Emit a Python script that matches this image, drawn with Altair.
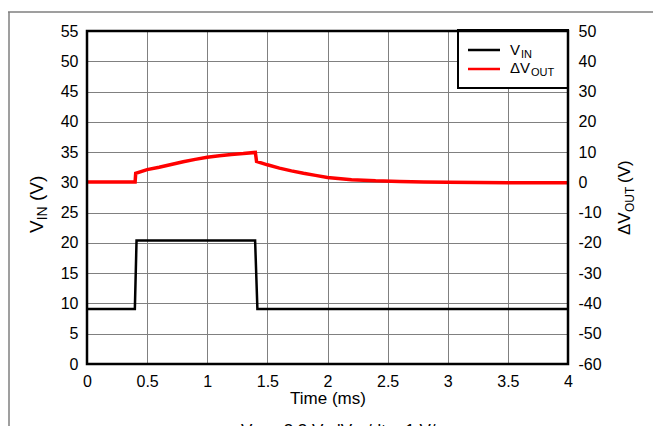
import altair as alt
import pandas as pd

FONT = "Liberation Sans"

# ---- data ----
t_vin = [0.0, 0.398, 0.412, 1.398, 1.417, 4.0]
v_in = [9.1, 9.1, 20.4, 20.4, 9.1, 9.1]

t_out = [0.0, 0.2, 0.4, 0.405, 0.5, 0.6, 0.7, 0.8, 0.9, 1.0, 1.1, 1.2, 1.3, 1.4,
         1.41, 1.5, 1.6, 1.7, 1.8, 1.9, 2.0, 2.2, 2.4, 2.6, 2.8, 3.0, 3.5, 4.0]
dv_out = [0.1, 0.1, 0.1, 3.0, 4.2, 5.0, 5.9, 6.8, 7.6, 8.3, 8.8, 9.2, 9.5, 9.9,
          6.9, 5.8, 4.7, 3.8, 3.0, 2.3, 1.6, 0.9, 0.5, 0.3, 0.1, 0.0, -0.1, -0.1]

x_ticks = [0, 0.5, 1, 1.5, 2, 2.5, 3, 3.5, 4]
left_ticks = list(range(0, 56, 5))
right_ticks = list(range(-60, 51, 10))

W, H = 481, 333

vin_df = pd.DataFrame({"t": t_vin, "v": v_in})
out_df = pd.DataFrame({"t": t_out, "dv": dv_out})
one = pd.DataFrame({"k": [0]})

LBL = "'' + datum.value"

xenc = alt.X("t:Q", scale=alt.Scale(domain=[0, 4], nice=False),
             axis=alt.Axis(values=x_ticks, title="Time (ms)", grid=True,
                           gridColor="#808080", gridWidth=1, domain=False,
                           ticks=False, labelPadding=9, labelFontSize=16,
                           labelExpr=LBL,
                           titleFontSize=17, titleFontWeight="normal",
                           titlePadding=1, labelColor="black", titleColor="black",
                           labelFlush=False, labelOverlap=False))

vin_line = alt.Chart(vin_df).mark_line(color="black", strokeWidth=2.5).encode(
    x=xenc,
    y=alt.Y("v:Q", scale=alt.Scale(domain=[0, 55], nice=False),
            axis=alt.Axis(orient="left", values=left_ticks, title=None, grid=True,
                          gridColor="#808080", gridWidth=1, domain=False,
                          ticks=False, labelPadding=9, labelFontSize=16,
                          labelExpr=LBL,
                          labelColor="black", labelFlush=False, labelOverlap=False)),
)

out_line = alt.Chart(out_df).mark_line(color="#ff0000", strokeWidth=3.5).encode(
    x=alt.X("t:Q", scale=alt.Scale(domain=[0, 4], nice=False)),
    y=alt.Y("dv:Q", scale=alt.Scale(domain=[-60, 50], nice=False),
            axis=alt.Axis(orient="right", values=right_ticks, title=None, grid=False,
                          domain=False, ticks=False, labelPadding=10,
                          labelFontSize=16, labelColor="black", labelFlush=False,
                          labelExpr=LBL, labelOverlap=False)),
)


def txt(s, x, y, size, dx=0, dy=0, angle=0, align="left"):
    return alt.Chart(one).mark_text(
        text=s, fontSize=size, align=align, baseline="alphabetic", angle=angle,
        dx=dx, dy=dy, font=FONT, color="black"
    ).encode(x=alt.value(x), y=alt.value(y))


def rule(x1, x2, y1, y2, color, width):
    return alt.Chart(one).mark_rule(color=color, strokeWidth=width).encode(
        x=alt.value(x1), x2=alt.value(x2), y=alt.value(y1), y2=alt.value(y2))


frame = alt.Chart(one).mark_rect(fill=None, fillOpacity=0, stroke="black",
                                 strokeWidth=2.5).encode(
    x=alt.value(0), x2=alt.value(W), y=alt.value(0), y2=alt.value(H))

legend_box = alt.Chart(one).mark_rect(fill="white", stroke="black",
                                      strokeWidth=2).encode(
    x=alt.value(371), x2=alt.value(481), y=alt.value(-1), y2=alt.value(57))

layers = [
    vin_line,
    out_line,
    legend_box,
    rule(381, 413, 19, 19, "black", 2.5),
    rule(381, 413, 38, 38, "#ff0000", 2.5),
    txt("V", 423, 24, 15),
    txt("IN", 434, 27, 11),
    txt("ΔV", 423, 42, 15),
    txt("OUT", 444, 45, 11),
    # left axis title
    txt("V", -44, 202, 19, angle=270),
    txt("IN", -44, 202, 14, dx=12.7, dy=4, angle=270),
    txt("(V)", -44, 202, 19, dx=32, angle=270),
    # right axis title
    txt("ΔV", 543, 204, 17, angle=270),
    txt("OUT", 543, 204, 12, dx=23, dy=4, angle=270),
    txt("(V)", 543, 204, 17, dx=52, angle=270),
    # caption (mostly cut off at the page bottom)
    txt("V", 154, 405, 17),
    txt("IN", 165, 408, 12),
    txt("= 3.3 V, dV", 182, 405, 17),
    txt("IN", 267, 408, 12),
    txt("/dt = 1 V/µs", 280, 405, 17),
    # outer frame lines
    rule(-79, 566, -19, -19, "#7f7f7f", 1.5),
    rule(-78, -78, -19, 395, "#7f7f7f", 1.5),
    frame,
]

chart = alt.layer(*layers).resolve_scale(y="independent").properties(
    width=W, height=H,
    padding={"left": 79, "top": 23, "right": 85, "bottom": 62},
    autosize=alt.AutoSizeParams(type="none"),
).configure(font=FONT).configure_view(stroke=None)

chart.save("out.html", embed_options={"renderer": "svg", "actions": False})
